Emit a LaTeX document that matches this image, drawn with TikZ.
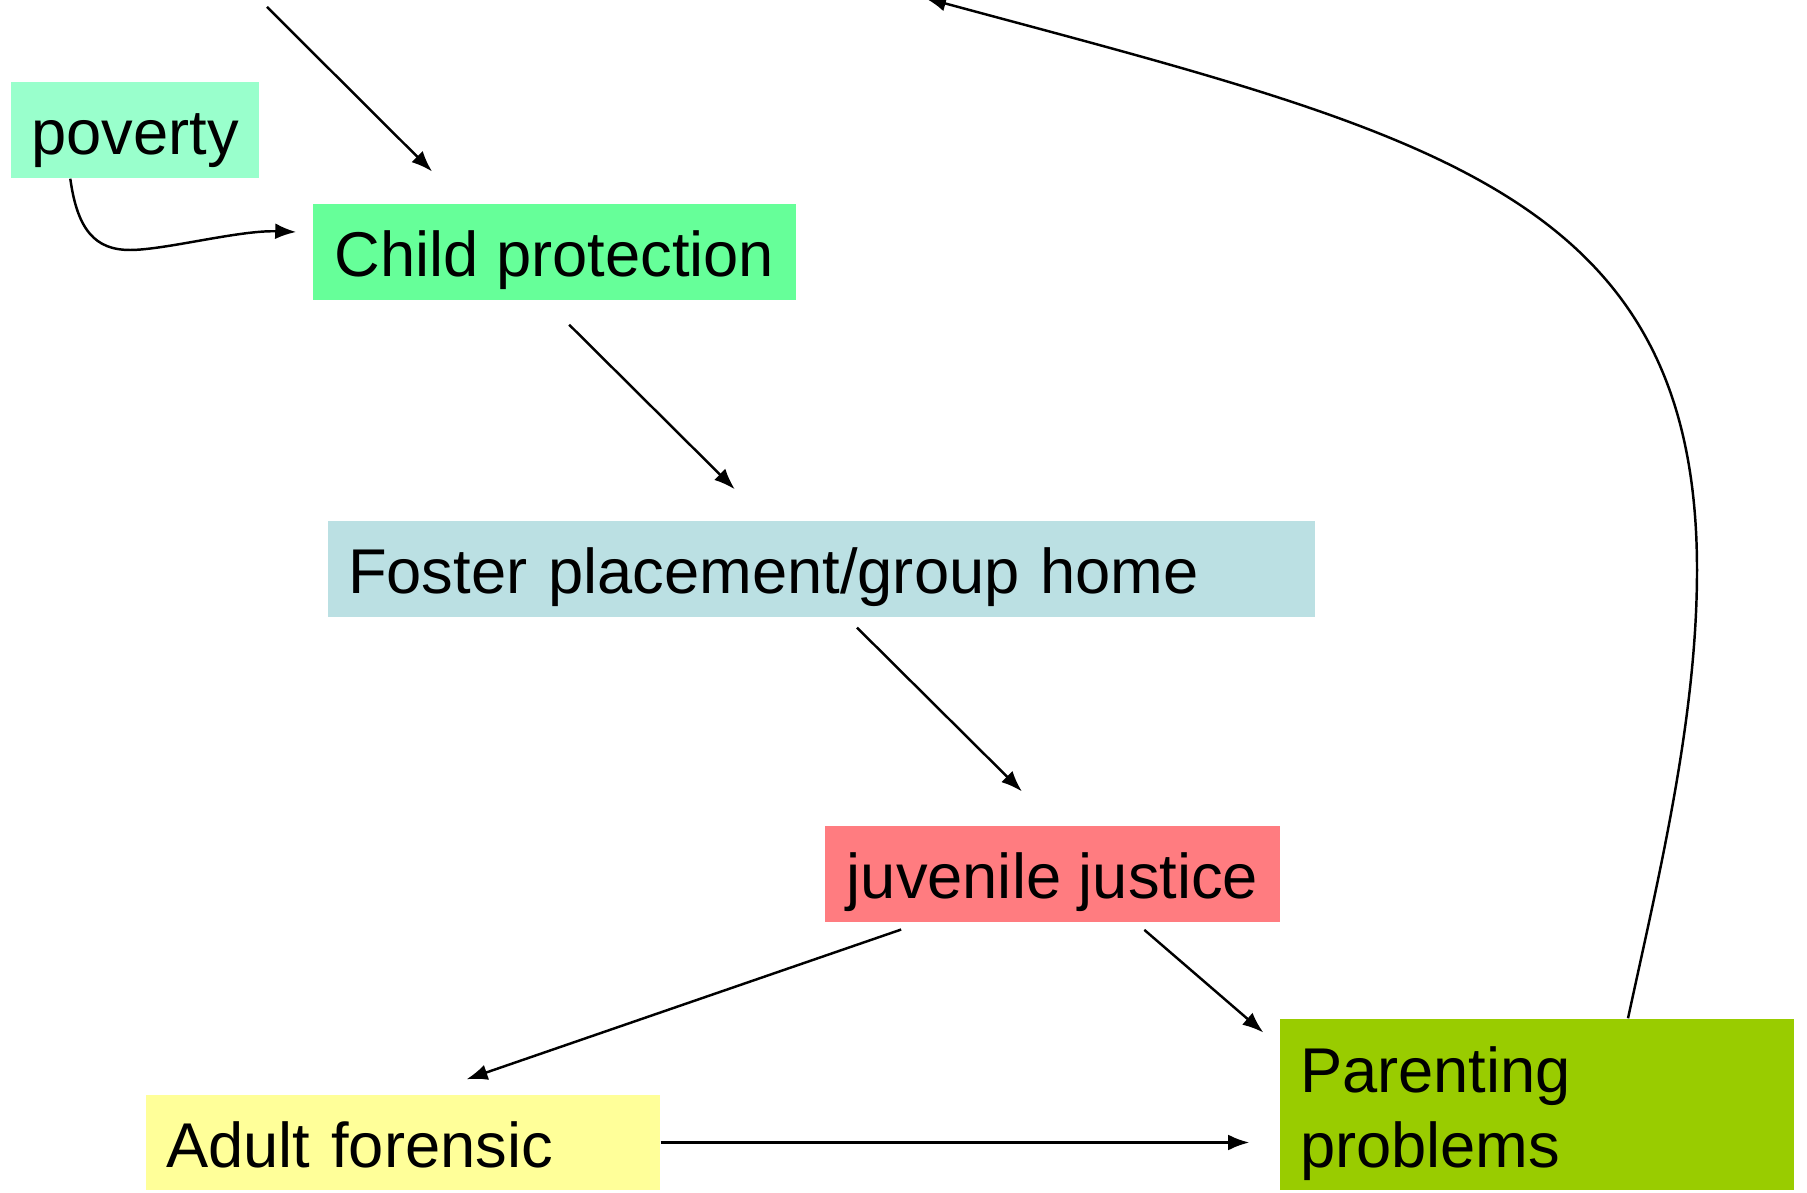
\documentclass[tikz,border=0pt]{standalone}
\usepackage{fontspec}
\setmainfont{Liberation Sans}
\usepackage{xcolor}
\usepackage{tikz}
\usetikzlibrary{shapes,arrows.meta,positioning}
\definecolor{povertygreen}{HTML}{99FFCC}
\definecolor{childgreen}{HTML}{66FF99}
\definecolor{fosterblue}{HTML}{BBE0E3}
\definecolor{juvenilered}{HTML}{FF7C80}
\definecolor{adultyellow}{HTML}{FFFF99}
\definecolor{parentgreen}{HTML}{99CC00}
\tikzstyle{arrow} = [line width=0.7pt,-{Latex[length=6pt,width=4.5pt]}]

\begin{document}
\begin{tikzpicture}
    \tikzstyle{box}=[rectangle, inner xsep=0.2cm, inner ysep=0pt, align=left, minimum height=0.96cm, text height=18.2pt, text depth=4pt, font=\fontsize{18}{21.5}\selectfont]

    \useasboundingbox (0,0) rectangle (18.07,11.92);

    \node[box, fill=povertygreen, minimum width=2.48cm] (poverty) at (1.35,10.62) {poverty};
    \node[box, fill=childgreen, minimum width=4.83cm] (child) at (5.545,9.40) {Child protection};
    \node[box, fill=fosterblue, text width=9.47cm] (foster) at (8.215,6.23) {Foster placement/group home};
    \node[box, fill=juvenilered, minimum width=4.55cm] (juvenile) at (10.525,3.18) {juvenile justice};
    \node[box, fill=adultyellow, text width=4.74cm, minimum height=0.95cm] (adult) at (4.03,0.495) {Adult forensic};
    \node[box, fill=parentgreen, text width=4.74cm, minimum height=1.71cm, text depth=] (parenting) at (15.37,0.875) {Parenting\\problems};

    \coordinate (topstart) at (2.67,11.85);
    \coordinate (topend) at (9.25,11.94);
    \coordinate (dip) at (1.30,9.42);

    \draw[arrow, shorten >=0.45cm] (topstart) -- ([xshift=-0.905cm]child.north);
    \draw[arrow] ([xshift=0.6cm]poverty.south west) .. controls +(0.07,-0.51) and +(-0.35,0) .. (dip)
        .. controls +(0.35,0) and +(-0.57,0.02) .. ([xshift=-0.16cm,yshift=0.2cm]child.west);
    \draw[arrow, shorten <=0.34cm, shorten >=0.44cm] ([xshift=-0.095cm]child.south) -- ([xshift=-0.555cm]foster.north);
    \draw[arrow, shorten <=0.14cm, shorten >=0.48cm] ([xshift=0.255cm]foster.south) -- ([xshift=0.035cm]juvenile.north);
    \draw[arrow, shorten <=0.21cm, shorten >=0.46cm] ([xshift=-1.315cm]juvenile.south) -- ([xshift=0.2cm]adult.north);
    \draw[arrow, shorten <=0.11cm, shorten >=0.21cm] ([xshift=0.835cm]juvenile.south) -- ([yshift=-0.28cm]parenting.north west);
    \draw[arrow, shorten >=0.30cm] (adult.east) -- (adult.east -| parenting.west);
    \draw[arrow] ([xshift=0.91cm]parenting.north) .. controls +(0.30,1.39) and +(0,-1.50) .. (16.97,6.22)
        .. controls +(0,3.80) and +(5.00,-1.35) .. (topend);
\end{tikzpicture}
\end{document}
